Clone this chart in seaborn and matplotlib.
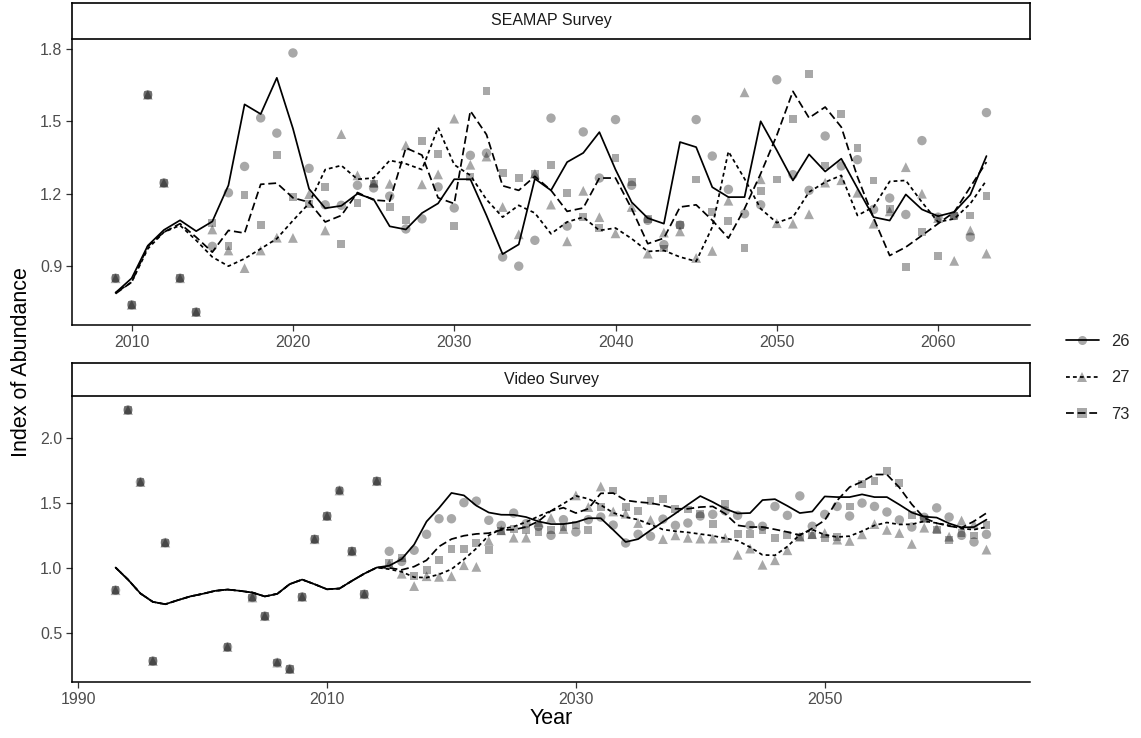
import numpy as np
import pandas as pd
import matplotlib
matplotlib.use("Agg")
import matplotlib.pyplot as plt
from matplotlib.lines import Line2D
import seaborn as sns

# ---------------- data ----------------
models = ["26", "27", "73"]
surveys = ["SEAMAP Survey", "Video Survey"]

# SEAMAP survey: fitted index (lines) 2009-2063
seamap_fit_years = list(range(2009, 2064))
seamap_fit_26 = [0.79, 0.85, 0.985, 1.05, 1.09, 1.045, 1.085, 1.235, 1.57, 1.53,
                 1.68, 1.47, 1.22, 1.14, 1.15, 1.20, 1.177, 1.065, 1.052, 1.12,
                 1.16, 1.26, 1.26, 1.11, 0.95, 0.99, 1.262, 1.214, 1.331, 1.369,
                 1.455, 1.30, 1.165, 1.099, 1.076, 1.414, 1.393, 1.227, 1.186, 1.186,
                 1.50, 1.38, 1.255, 1.363, 1.292, 1.345, 1.223, 1.103, 1.089, 1.197,
                 1.135, 1.107, 1.124, 1.196, 1.356]
seamap_fit_27 = [0.79, 0.834, 0.972, 1.041, 1.069, 1.007, 0.938, 0.90, 0.931, 0.972,
                 1.014, 1.089, 1.16, 1.30, 1.317, 1.26, 1.265, 1.338, 1.324, 1.30,
                 1.474, 1.32, 1.276, 1.176, 1.103, 1.152, 1.12, 1.034, 1.083, 1.103,
                 1.048, 1.058, 1.014, 0.961, 0.965, 0.938, 0.92, 1.062, 1.375, 1.262,
                 1.138, 1.08, 1.103, 1.207, 1.248, 1.276, 1.11, 1.145, 1.251, 1.255,
                 1.165, 1.083, 1.096, 1.159, 1.255]
seamap_fit_73 = [0.786, 0.834, 0.982, 1.041, 1.076, 1.02, 0.958, 1.048, 1.037, 1.239,
                 1.244, 1.183, 1.165, 1.083, 1.11, 1.205, 1.174, 1.169, 1.39, 1.36,
                 1.183, 1.159, 1.543, 1.445, 1.233, 1.214, 1.272, 1.214, 1.127, 1.141,
                 1.265, 1.265, 1.138, 0.993, 1.016, 1.145, 1.154, 1.09, 1.016, 1.138,
                 1.283, 1.442, 1.624, 1.514, 1.559, 1.476, 1.27, 1.10, 0.944, 0.979,
                 1.027, 1.076, 1.124, 1.228, 1.331]
# SEAMAP observed: historical (shared) and projected (per model)
seamap_hist_years = [2009, 2010, 2011, 2012, 2013, 2014]
seamap_hist_index = [0.85, 0.74, 1.61, 1.245, 0.85, 0.71]
seamap_proj_years = list(range(2015, 2064))
seamap_obs_26 = [0.982, 1.204, 1.313, 1.514, 1.451, 1.783, 1.305, 1.154, 1.152, 1.235,
                 1.224, 1.19, 1.054, 1.096, 1.228, 1.141, 1.359, 1.368, 0.938, 0.90,
                 1.007, 1.513, 1.066, 1.456, 1.265, 1.507, 1.235, 1.09, 0.989, 1.07,
                 1.507, 1.356, 1.218, 1.117, 1.154, 1.672, 1.279, 1.214, 1.439, 1.315,
                 1.341, 1.135, 1.182, 1.114, 1.42, 1.103, 1.11, 1.02, 1.536]
seamap_obs_27 = [1.052, 0.965, 0.892, 0.965, 1.018, 1.017, 1.198, 1.048, 1.447, 1.276,
                 1.248, 1.241, 1.40, 1.239, 1.28, 1.511, 1.32, 1.354, 1.145, 1.032,
                 1.283, 1.155, 1.003, 1.212, 1.103, 1.036, 1.145, 0.952, 1.039, 1.044,
                 0.934, 0.963, 1.171, 1.62, 1.26, 1.078, 1.076, 1.115, 1.246, 1.256,
                 1.204, 1.076, 1.127, 1.31, 1.2, 1.099, 0.922, 1.048, 0.952]
seamap_obs_73 = [1.078, 0.983, 1.193, 1.069, 1.359, 1.186, 1.159, 1.229, 0.991, 1.16,
                 1.24, 1.145, 1.09, 1.418, 1.366, 1.066, 1.27, 1.627, 1.287, 1.266,
                 1.28, 1.32, 1.204, 1.105, 1.057, 1.349, 1.249, 1.094, 0.973, 1.071,
                 1.259, 1.124, 1.086, 0.977, 1.212, 1.259, 1.511, 1.695, 1.317, 1.529,
                 1.388, 1.255, 1.137, 0.896, 1.041, 0.942, 1.106, 1.11, 1.192]

# Video survey: fitted index (lines) 1993-2063
video_fit_years = list(range(1993, 2064))
video_fit_hist = [1.003, 0.91, 0.803, 0.738, 0.72, 0.751, 0.78, 0.80, 0.823, 0.833,
                  0.823, 0.81, 0.78, 0.80, 0.875, 0.91, 0.874, 0.835, 0.841, 0.90,
                  0.956, 1.003]
video_fit_26 = video_fit_hist + [
    1.017, 1.068, 1.18, 1.358, 1.462, 1.578, 1.559, 1.48, 1.427, 1.41,
    1.409, 1.392, 1.358, 1.338, 1.338, 1.352, 1.383, 1.383, 1.293, 1.20,
    1.222, 1.29, 1.355, 1.42, 1.488, 1.554, 1.508, 1.456, 1.42, 1.423,
    1.523, 1.53, 1.478, 1.423, 1.435, 1.551, 1.546, 1.546, 1.567, 1.546,
    1.546, 1.488, 1.427, 1.395, 1.388, 1.343, 1.312, 1.315, 1.372]
video_fit_27 = video_fit_hist + [
    0.99, 0.97, 0.928, 0.925, 0.95, 0.99, 1.065, 1.15, 1.251, 1.30,
    1.318, 1.354, 1.398, 1.44, 1.495, 1.555, 1.533, 1.485, 1.425, 1.392,
    1.372, 1.335, 1.296, 1.283, 1.274, 1.261, 1.248, 1.228, 1.21, 1.16,
    1.10, 1.097, 1.165, 1.257, 1.295, 1.255, 1.238, 1.245, 1.283, 1.328,
    1.35, 1.335, 1.336, 1.36, 1.346, 1.328, 1.303, 1.295, 1.315]
video_fit_73 = video_fit_hist + [
    1.0, 0.985, 1.01, 1.059, 1.165, 1.222, 1.248, 1.262, 1.268, 1.292,
    1.295, 1.315, 1.36, 1.44, 1.464, 1.423, 1.456, 1.575, 1.577, 1.521,
    1.508, 1.50, 1.482, 1.456, 1.456, 1.469, 1.474, 1.418, 1.328, 1.315,
    1.315, 1.297, 1.277, 1.251, 1.305, 1.367, 1.52, 1.623, 1.665, 1.72,
    1.72, 1.62, 1.49, 1.385, 1.345, 1.322, 1.31, 1.36, 1.423]
video_hist_years = [1993, 1994, 1995, 1996, 1997, 2002, 2004, 2005, 2006, 2007,
                    2008, 2009, 2010, 2011, 2012, 2013, 2014]
video_hist_index = [0.828, 2.218, 1.662, 0.282, 1.195, 0.39, 0.772, 0.628, 0.27, 0.22,
                    0.777, 1.221, 1.40, 1.597, 1.128, 0.797, 1.669]
video_proj_years = list(range(2015, 2064))
video_obs_26 = [1.128, 1.05, 1.136, 1.259, 1.379, 1.379, 1.503, 1.515, 1.367, 1.328,
                1.423, 1.341, 1.32, 1.251, 1.372, 1.277, 1.372, 1.392, 1.33, 1.192,
                1.259, 1.244, 1.376, 1.328, 1.346, 1.40, 1.413, 1.44, 1.405, 1.328,
                1.321, 1.474, 1.405, 1.555, 1.321, 1.413, 1.474, 1.40, 1.50, 1.474,
                1.431, 1.37, 1.315, 1.39, 1.463, 1.392, 1.251, 1.2, 1.259]
video_obs_27 = [1.03, 0.955, 0.86, 0.936, 0.931, 0.936, 1.021, 1.008, 1.208, 1.29,
                1.233, 1.233, 1.35, 1.385, 1.30, 1.559, 1.469, 1.628, 1.435, 1.418,
                1.346, 1.37, 1.222, 1.251, 1.232, 1.226, 1.226, 1.232, 1.101, 1.149,
                1.024, 1.059, 1.136, 1.24, 1.26, 1.269, 1.218, 1.208, 1.259, 1.338,
                1.293, 1.269, 1.185, 1.31, 1.305, 1.241, 1.365, 1.336, 1.141]
video_obs_73 = [1.04, 1.076, 0.936, 0.987, 1.059, 1.149, 1.149, 1.192, 1.141, 1.285,
                1.30, 1.29, 1.277, 1.295, 1.315, 1.328, 1.295, 1.469, 1.597, 1.469,
                1.438, 1.515, 1.533, 1.456, 1.45, 1.418, 1.336, 1.495, 1.264, 1.259,
                1.29, 1.233, 1.255, 1.236, 1.25, 1.232, 1.236, 1.474, 1.644, 1.672,
                1.745, 1.654, 1.405, 1.38, 1.29, 1.218, 1.27, 1.25, 1.328]

x_ticks = {"SEAMAP Survey": [2010, 2020, 2030, 2040, 2050, 2060],
           "Video Survey": [1990, 2010, 2030, 2050]}
y_ticks = {"SEAMAP Survey": [0.9, 1.2, 1.5, 1.8],
           "Video Survey": [0.5, 1.0, 1.5, 2.0]}
y_ticklabels = {"SEAMAP Survey": ["0.9", "1.2", "1.5", "1.8"],
                "Video Survey": ["0.5", "1.0", "1.5", "2.0"]}

# ---------------- tidy tables ----------------
fit_rows = []
for survey, yrs, series in [
        ("SEAMAP Survey", seamap_fit_years, [seamap_fit_26, seamap_fit_27, seamap_fit_73]),
        ("Video Survey", video_fit_years, [video_fit_26, video_fit_27, video_fit_73])]:
    for m, vals in zip(models, series):
        assert len(vals) == len(yrs), (survey, m, len(vals), len(yrs))
        fit_rows += [(survey, m, y, v) for y, v in zip(yrs, vals)]
fit = pd.DataFrame(fit_rows, columns=["Survey", "Model", "Year", "Index"])

obs_rows = []
for survey, hy, hv, py, series in [
        ("SEAMAP Survey", seamap_hist_years, seamap_hist_index, seamap_proj_years,
         [seamap_obs_26, seamap_obs_27, seamap_obs_73]),
        ("Video Survey", video_hist_years, video_hist_index, video_proj_years,
         [video_obs_26, video_obs_27, video_obs_73])]:
    for m, vals in zip(models, series):
        assert len(vals) == len(py), (survey, m, len(vals))
        obs_rows += [(survey, m, y, v) for y, v in zip(hy, hv)]
        obs_rows += [(survey, m, y, v) for y, v in zip(py, vals)]
obs = pd.DataFrame(obs_rows, columns=["Survey", "Model", "Year", "Index"])

# ---------------- style ----------------
sns.set_theme(style="ticks")
plt.rcParams["font.family"] = ["Liberation Sans", "DejaVu Sans"]
plt.rcParams["axes.linewidth"] = 1.0

W, H = 1141, 738
fig = plt.figure(figsize=(W / 100, H / 100), dpi=100)

def fr(x0, y0, x1, y1):
    return [x0 / W, 1 - y1 / H, (x1 - x0) / W, (y1 - y0) / H]

panel_boxes = {"SEAMAP Survey": fr(72, 40, 1030, 325),
               "Video Survey": fr(72, 397, 1030, 682)}
strip_boxes = {"SEAMAP Survey": fr(72, 3, 1030, 39),
               "Video Survey": fr(72, 363, 1030, 396)}

dash_map = {"26": "", "27": (2.2, 1.8), "73": (4.5, 2.2)}
marker_map = {"26": "o", "27": "^", "73": "s"}
size_map = {"26": 46, "27": 50, "73": 32}
pt_color = (0, 0, 0, 0.34)
tick_col = "#4D4D4D"

for survey in surveys:
    ax = fig.add_axes(panel_boxes[survey])
    o = obs[obs.Survey == survey]
    f = fit[fit.Survey == survey]
    sns.lineplot(data=f, x="Year", y="Index", style="Model", style_order=models,
                 dashes=dash_map, color="black", linewidth=1.25, estimator=None,
                 legend=False, ax=ax, zorder=2)
    sns.scatterplot(data=o, x="Year", y="Index", style="Model", style_order=models,
                    markers=marker_map, size="Model", sizes=size_map,
                    color="black", alpha=0.34,
                    linewidth=0, legend=False, ax=ax, zorder=3)
    allx = pd.concat([o.Year, f.Year])
    ally = pd.concat([o.Index, f.Index])
    xr = allx.max() - allx.min()
    yr = ally.max() - ally.min()
    ax.set_xlim(allx.min() - 0.05 * xr, allx.max() + 0.05 * xr)
    ax.set_ylim(ally.min() - 0.05 * yr, ally.max() + 0.05 * yr)
    ax.set_xticks(x_ticks[survey])
    ax.set_yticks(y_ticks[survey])
    ax.set_yticklabels(y_ticklabels[survey])
    ax.set_xlabel("")
    ax.set_ylabel("")
    sns.despine(ax=ax)
    for s in ["left", "bottom"]:
        ax.spines[s].set_color("black")
        ax.spines[s].set_linewidth(1.1)
    ax.tick_params(axis="both", length=4, width=0.9, color="#333333",
                   labelcolor=tick_col, labelsize=11.5, pad=3)
    ax.set_facecolor("white")

    sax = fig.add_axes(strip_boxes[survey])
    sax.set_xticks([])
    sax.set_yticks([])
    for s in sax.spines.values():
        s.set_visible(True)
        s.set_color("black")
        s.set_linewidth(1.2)
    sax.set_facecolor("white")
    sax.text(0.5, 0.5, survey, ha="center", va="center", fontsize=11.5,
             color="#1A1A1A", transform=sax.transAxes)

fig.text(551 / W, 1 - 718 / H, "Year", ha="center", va="center", fontsize=15.5,
         color="black")
fig.text(22 / W, 1 - 362 / H, "Index of Abundance", ha="center", va="center",
         rotation=90, fontsize=15.5, color="black")

handles = []
for m in models:
    ls = "-" if dash_map[m] == "" else (0, dash_map[m])
    handles.append(Line2D([0], [0], color="black", linewidth=1.25, linestyle=ls,
                          marker=marker_map[m], markersize=6.5,
                          markerfacecolor=pt_color, markeredgewidth=0))
leg = fig.legend(handles, models, loc="center left",
                 bbox_to_anchor=(1066 / W, 1 - 378 / H), frameon=False,
                 fontsize=11.8, handlelength=2.0, handletextpad=0.75,
                 labelspacing=1.3, borderaxespad=0, borderpad=0)

fig.savefig("out.png", dpi=100, facecolor="white")
